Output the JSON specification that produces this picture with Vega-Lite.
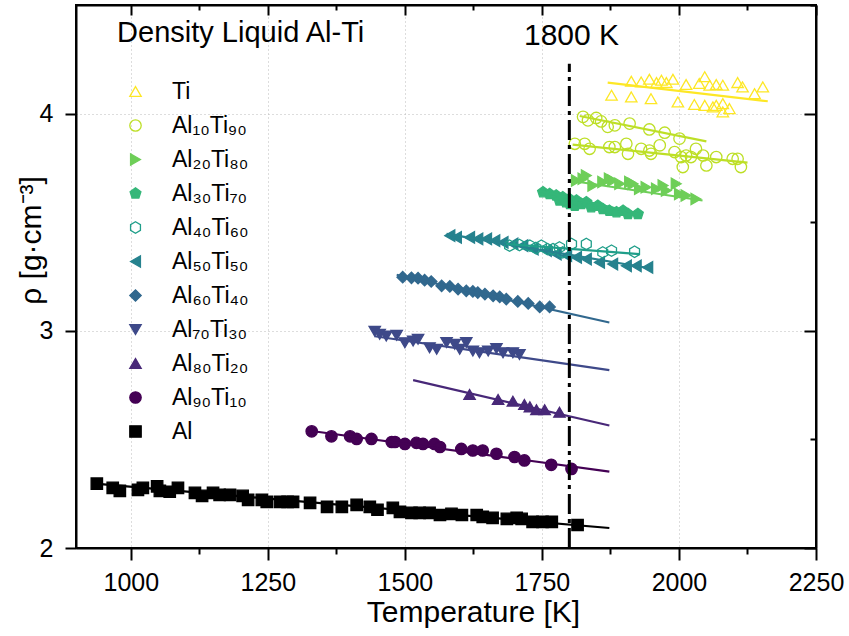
{
  "$schema": "https://vega.github.io/schema/vega-lite/v6.json",
  "width": 740,
  "height": 543,
  "autosize": {"type": "none"},
  "padding": {"left": 76, "top": 5, "right": 33, "bottom": 88},
  "background": "white",
  "config": {
    "view": {"stroke": "black", "strokeWidth": 2},
    "font": "Liberation Sans",
    "axis": {
      "domainColor": "black", "domainWidth": 2, "tickColor": "black", "tickWidth": 2,
      "labelFont": "Liberation Sans", "labelFontSize": 25, "labelColor": "black",
      "titleFont": "Liberation Sans", "titleFontSize": 30, "titleFontWeight": "normal", "titleColor": "black",
      "labelFlush": false, "labelOverlap": false
    }
  },
  "datasets": {
    "pts": [
      {"s":"Al","T":938,"r":2.296},{"s":"Al","T":967,"r":2.277},{"s":"Al","T":980,"r":2.263},{"s":"Al","T":1013,"r":2.268},{"s":"Al","T":1022,"r":2.277},{"s":"Al","T":1048,"r":2.284},{"s":"Al","T":1053,"r":2.263},{"s":"Al","T":1071,"r":2.259},{"s":"Al","T":1086,"r":2.277},{"s":"Al","T":1117,"r":2.254},{"s":"Al","T":1130,"r":2.240},{"s":"Al","T":1150,"r":2.254},{"s":"Al","T":1162,"r":2.245},{"s":"Al","T":1181,"r":2.245},{"s":"Al","T":1204,"r":2.240},{"s":"Al","T":1214,"r":2.222},{"s":"Al","T":1239,"r":2.222},{"s":"Al","T":1248,"r":2.212},{"s":"Al","T":1272,"r":2.212},{"s":"Al","T":1286,"r":2.212},{"s":"Al","T":1296,"r":2.212},{"s":"Al","T":1327,"r":2.208},{"s":"Al","T":1358,"r":2.189},{"s":"Al","T":1385,"r":2.189},{"s":"Al","T":1412,"r":2.199},{"s":"Al","T":1436,"r":2.189},{"s":"Al","T":1450,"r":2.176},{"s":"Al","T":1478,"r":2.185},{"s":"Al","T":1491,"r":2.166},{"s":"Al","T":1512,"r":2.162},{"s":"Al","T":1527,"r":2.162},{"s":"Al","T":1545,"r":2.162},{"s":"Al","T":1564,"r":2.152},{"s":"Al","T":1585,"r":2.157},{"s":"Al","T":1604,"r":2.152},{"s":"Al","T":1631,"r":2.152},{"s":"Al","T":1642,"r":2.143},{"s":"Al","T":1660,"r":2.139},{"s":"Al","T":1686,"r":2.134},{"s":"Al","T":1704,"r":2.139},{"s":"Al","T":1713,"r":2.134},{"s":"Al","T":1733,"r":2.120},{"s":"Al","T":1751,"r":2.120},{"s":"Al","T":1768,"r":2.120},{"s":"Al","T":1815,"r":2.106},

      {"s":"Al₉₀Ti₁₀","T":1330,"r":2.537},{"s":"Al₉₀Ti₁₀","T":1366,"r":2.514},{"s":"Al₉₀Ti₁₀","T":1400,"r":2.514},{"s":"Al₉₀Ti₁₀","T":1412,"r":2.502},{"s":"Al₉₀Ti₁₀","T":1439,"r":2.502},{"s":"Al₉₀Ti₁₀","T":1476,"r":2.488},{"s":"Al₉₀Ti₁₀","T":1482,"r":2.488},{"s":"Al₉₀Ti₁₀","T":1500,"r":2.479},{"s":"Al₉₀Ti₁₀","T":1521,"r":2.484},{"s":"Al₉₀Ti₁₀","T":1533,"r":2.479},{"s":"Al₉₀Ti₁₀","T":1554,"r":2.479},{"s":"Al₉₀Ti₁₀","T":1564,"r":2.465},{"s":"Al₉₀Ti₁₀","T":1603,"r":2.456},{"s":"Al₉₀Ti₁₀","T":1624,"r":2.449},{"s":"Al₉₀Ti₁₀","T":1642,"r":2.449},{"s":"Al₉₀Ti₁₀","T":1667,"r":2.434},{"s":"Al₉₀Ti₁₀","T":1700,"r":2.419},{"s":"Al₉₀Ti₁₀","T":1718,"r":2.403},{"s":"Al₉₀Ti₁₀","T":1767,"r":2.383},{"s":"Al₉₀Ti₁₀","T":1804,"r":2.364},

      {"s":"Al₈₀Ti₂₀","T":1618,"r":2.707},{"s":"Al₈₀Ti₂₀","T":1670,"r":2.684},{"s":"Al₈₀Ti₂₀","T":1697,"r":2.676},{"s":"Al₈₀Ti₂₀","T":1718,"r":2.661},{"s":"Al₈₀Ti₂₀","T":1728,"r":2.650},{"s":"Al₈₀Ti₂₀","T":1740,"r":2.637},{"s":"Al₈₀Ti₂₀","T":1755,"r":2.637},{"s":"Al₈₀Ti₂₀","T":1782,"r":2.625},

      {"s":"Al₇₀Ti₃₀","T":1445,"r":2.998},{"s":"Al₇₀Ti₃₀","T":1454,"r":2.984},{"s":"Al₇₀Ti₃₀","T":1466,"r":2.976},{"s":"Al₇₀Ti₃₀","T":1485,"r":2.979},{"s":"Al₇₀Ti₃₀","T":1500,"r":2.945},{"s":"Al₇₀Ti₃₀","T":1515,"r":2.953},{"s":"Al₇₀Ti₃₀","T":1524,"r":2.961},{"s":"Al₇₀Ti₃₀","T":1545,"r":2.922},{"s":"Al₇₀Ti₃₀","T":1558,"r":2.915},{"s":"Al₇₀Ti₃₀","T":1576,"r":2.946},{"s":"Al₇₀Ti₃₀","T":1591,"r":2.938},{"s":"Al₇₀Ti₃₀","T":1600,"r":2.915},{"s":"Al₇₀Ti₃₀","T":1612,"r":2.946},{"s":"Al₇₀Ti₃₀","T":1624,"r":2.907},{"s":"Al₇₀Ti₃₀","T":1636,"r":2.899},{"s":"Al₇₀Ti₃₀","T":1652,"r":2.907},{"s":"Al₇₀Ti₃₀","T":1667,"r":2.918},{"s":"Al₇₀Ti₃₀","T":1679,"r":2.899},{"s":"Al₇₀Ti₃₀","T":1697,"r":2.899},{"s":"Al₇₀Ti₃₀","T":1709,"r":2.891},

      {"s":"Al₆₀Ti₄₀","T":1496,"r":3.247},{"s":"Al₆₀Ti₄₀","T":1512,"r":3.244},{"s":"Al₆₀Ti₄₀","T":1524,"r":3.242},{"s":"Al₆₀Ti₄₀","T":1536,"r":3.233},{"s":"Al₆₀Ti₄₀","T":1548,"r":3.227},{"s":"Al₆₀Ti₄₀","T":1567,"r":3.207},{"s":"Al₆₀Ti₄₀","T":1582,"r":3.204},{"s":"Al₆₀Ti₄₀","T":1597,"r":3.192},{"s":"Al₆₀Ti₄₀","T":1612,"r":3.184},{"s":"Al₆₀Ti₄₀","T":1624,"r":3.181},{"s":"Al₆₀Ti₄₀","T":1633,"r":3.176},{"s":"Al₆₀Ti₄₀","T":1646,"r":3.169},{"s":"Al₆₀Ti₄₀","T":1661,"r":3.161},{"s":"Al₆₀Ti₄₀","T":1673,"r":3.156},{"s":"Al₆₀Ti₄₀","T":1685,"r":3.146},{"s":"Al₆₀Ti₄₀","T":1706,"r":3.135},{"s":"Al₆₀Ti₄₀","T":1725,"r":3.126},{"s":"Al₆₀Ti₄₀","T":1746,"r":3.110},{"s":"Al₆₀Ti₄₀","T":1764,"r":3.110},

      {"s":"Al₅₀Ti₅₀","T":1582,"r":3.438},{"s":"Al₅₀Ti₅₀","T":1594,"r":3.430},{"s":"Al₅₀Ti₅₀","T":1618,"r":3.430},{"s":"Al₅₀Ti₅₀","T":1633,"r":3.423},{"s":"Al₅₀Ti₅₀","T":1649,"r":3.423},{"s":"Al₅₀Ti₅₀","T":1664,"r":3.415},{"s":"Al₅₀Ti₅₀","T":1679,"r":3.407},{"s":"Al₅₀Ti₅₀","T":1697,"r":3.400},{"s":"Al₅₀Ti₅₀","T":1715,"r":3.392},{"s":"Al₅₀Ti₅₀","T":1734,"r":3.376},{"s":"Al₅₀Ti₅₀","T":1758,"r":3.369},{"s":"Al₅₀Ti₅₀","T":1776,"r":3.353},{"s":"Al₅₀Ti₅₀","T":1795,"r":3.346},{"s":"Al₅₀Ti₅₀","T":1813,"r":3.338},{"s":"Al₅₀Ti₅₀","T":1831,"r":3.330},{"s":"Al₅₀Ti₅₀","T":1855,"r":3.315},{"s":"Al₅₀Ti₅₀","T":1879,"r":3.307},{"s":"Al₅₀Ti₅₀","T":1904,"r":3.299},{"s":"Al₅₀Ti₅₀","T":1922,"r":3.299},{"s":"Al₅₀Ti₅₀","T":1943,"r":3.292},

      {"s":"Al₄₀Ti₆₀","T":1691,"r":3.392},{"s":"Al₄₀Ti₆₀","T":1709,"r":3.395},{"s":"Al₄₀Ti₆₀","T":1728,"r":3.392},{"s":"Al₄₀Ti₆₀","T":1739,"r":3.381},{"s":"Al₄₀Ti₆₀","T":1749,"r":3.392},{"s":"Al₄₀Ti₆₀","T":1760,"r":3.376},{"s":"Al₄₀Ti₆₀","T":1770,"r":3.376},{"s":"Al₄₀Ti₆₀","T":1782,"r":3.384},{"s":"Al₄₀Ti₆₀","T":1788,"r":3.361},{"s":"Al₄₀Ti₆₀","T":1804,"r":3.400},{"s":"Al₄₀Ti₆₀","T":1831,"r":3.400},{"s":"Al₄₀Ti₆₀","T":1861,"r":3.361},{"s":"Al₄₀Ti₆₀","T":1877,"r":3.369},{"s":"Al₄₀Ti₆₀","T":1919,"r":3.364},

      {"s":"Al₃₀Ti₇₀","T":1752,"r":3.638},{"s":"Al₃₀Ti₇₀","T":1764,"r":3.630},{"s":"Al₃₀Ti₇₀","T":1776,"r":3.623},{"s":"Al₃₀Ti₇₀","T":1782,"r":3.600},{"s":"Al₃₀Ti₇₀","T":1788,"r":3.615},{"s":"Al₃₀Ti₇₀","T":1794,"r":3.592},{"s":"Al₃₀Ti₇₀","T":1800,"r":3.607},{"s":"Al₃₀Ti₇₀","T":1801,"r":3.584},{"s":"Al₃₀Ti₇₀","T":1810,"r":3.576},{"s":"Al₃₀Ti₇₀","T":1813,"r":3.600},{"s":"Al₃₀Ti₇₀","T":1822,"r":3.584},{"s":"Al₃₀Ti₇₀","T":1831,"r":3.592},{"s":"Al₃₀Ti₇₀","T":1840,"r":3.569},{"s":"Al₃₀Ti₇₀","T":1852,"r":3.576},{"s":"Al₃₀Ti₇₀","T":1861,"r":3.561},{"s":"Al₃₀Ti₇₀","T":1873,"r":3.553},{"s":"Al₃₀Ti₇₀","T":1886,"r":3.546},{"s":"Al₃₀Ti₇₀","T":1898,"r":3.553},{"s":"Al₃₀Ti₇₀","T":1907,"r":3.538},{"s":"Al₃₀Ti₇₀","T":1925,"r":3.538},

      {"s":"Al₂₀Ti₈₀","T":1813,"r":3.692},{"s":"Al₂₀Ti₈₀","T":1825,"r":3.700},{"s":"Al₂₀Ti₈₀","T":1831,"r":3.715},{"s":"Al₂₀Ti₈₀","T":1843,"r":3.669},{"s":"Al₂₀Ti₈₀","T":1861,"r":3.685},{"s":"Al₂₀Ti₈₀","T":1873,"r":3.700},{"s":"Al₂₀Ti₈₀","T":1879,"r":3.692},{"s":"Al₂₀Ti₈₀","T":1892,"r":3.677},{"s":"Al₂₀Ti₈₀","T":1910,"r":3.685},{"s":"Al₂₀Ti₈₀","T":1916,"r":3.677},{"s":"Al₂₀Ti₈₀","T":1928,"r":3.654},{"s":"Al₂₀Ti₈₀","T":1940,"r":3.661},{"s":"Al₂₀Ti₈₀","T":1959,"r":3.654},{"s":"Al₂₀Ti₈₀","T":1971,"r":3.669},{"s":"Al₂₀Ti₈₀","T":1977,"r":3.646},{"s":"Al₂₀Ti₈₀","T":1995,"r":3.677},{"s":"Al₂₀Ti₈₀","T":2001,"r":3.630},{"s":"Al₂₀Ti₈₀","T":2013,"r":3.623},{"s":"Al₂₀Ti₈₀","T":2031,"r":3.607},

      {"s":"Al₁₀Ti₉₀","T":1825,"r":3.985},{"s":"Al₁₀Ti₉₀","T":1834,"r":3.969},{"s":"Al₁₀Ti₉₀","T":1849,"r":3.980},{"s":"Al₁₀Ti₉₀","T":1858,"r":3.964},{"s":"Al₁₀Ti₉₀","T":1870,"r":3.939},{"s":"Al₁₀Ti₉₀","T":1883,"r":3.946},{"s":"Al₁₀Ti₉₀","T":1910,"r":3.954},{"s":"Al₁₀Ti₉₀","T":1946,"r":3.927},{"s":"Al₁₀Ti₉₀","T":1974,"r":3.912},{"s":"Al₁₀Ti₉₀","T":2001,"r":3.885},
      {"s":"Al₁₀Ti₉₀","T":1810,"r":3.861},{"s":"Al₁₀Ti₉₀","T":1828,"r":3.861},{"s":"Al₁₀Ti₉₀","T":1837,"r":3.838},{"s":"Al₁₀Ti₉₀","T":1873,"r":3.846},{"s":"Al₁₀Ti₉₀","T":1883,"r":3.846},{"s":"Al₁₀Ti₉₀","T":1904,"r":3.861},{"s":"Al₁₀Ti₉₀","T":1907,"r":3.815},{"s":"Al₁₀Ti₉₀","T":1931,"r":3.838},{"s":"Al₁₀Ti₉₀","T":1946,"r":3.830},{"s":"Al₁₀Ti₉₀","T":1949,"r":3.815},{"s":"Al₁₀Ti₉₀","T":1965,"r":3.854},{"s":"Al₁₀Ti₉₀","T":1992,"r":3.823},{"s":"Al₁₀Ti₉₀","T":2004,"r":3.800},{"s":"Al₁₀Ti₉₀","T":2007,"r":3.754},{"s":"Al₁₀Ti₉₀","T":2013,"r":3.807},{"s":"Al₁₀Ti₉₀","T":2022,"r":3.800},{"s":"Al₁₀Ti₉₀","T":2031,"r":3.838},{"s":"Al₁₀Ti₉₀","T":2044,"r":3.807},{"s":"Al₁₀Ti₉₀","T":2050,"r":3.761},{"s":"Al₁₀Ti₉₀","T":2068,"r":3.800},{"s":"Al₁₀Ti₉₀","T":2098,"r":3.792},{"s":"Al₁₀Ti₉₀","T":2107,"r":3.792},{"s":"Al₁₀Ti₉₀","T":2113,"r":3.754},

      {"s":"Ti","T":1913,"r":4.149},{"s":"Ti","T":1931,"r":4.146},{"s":"Ti","T":1946,"r":4.158},{"s":"Ti","T":1959,"r":4.143},{"s":"Ti","T":1968,"r":4.154},{"s":"Ti","T":1977,"r":4.143},{"s":"Ti","T":1989,"r":4.158},{"s":"Ti","T":2013,"r":4.134},{"s":"Ti","T":2037,"r":4.139},{"s":"Ti","T":2047,"r":4.170},{"s":"Ti","T":2056,"r":4.131},{"s":"Ti","T":2068,"r":4.134},{"s":"Ti","T":2080,"r":4.131},{"s":"Ti","T":2107,"r":4.143},{"s":"Ti","T":2116,"r":4.123},{"s":"Ti","T":2153,"r":4.123},{"s":"Ti","T":1877,"r":4.085},{"s":"Ti","T":1913,"r":4.077},{"s":"Ti","T":1949,"r":4.069},{"s":"Ti","T":1998,"r":4.054},{"s":"Ti","T":2028,"r":4.042},{"s":"Ti","T":2047,"r":4.038},{"s":"Ti","T":2062,"r":4.031},{"s":"Ti","T":2068,"r":4.038},{"s":"Ti","T":2080,"r":4.046},{"s":"Ti","T":2080,"r":4.008},{"s":"Ti","T":2092,"r":4.023},{"s":"Ti","T":2138,"r":4.092}
    ],
    "fits": [
      {"s":"Al","run":"a","T":935,"r":2.296},{"s":"Al","run":"a","T":1873,"r":2.092},
      {"s":"Al₉₀Ti₁₀","run":"a","T":1320,"r":2.542},{"s":"Al₉₀Ti₁₀","run":"a","T":1873,"r":2.352},
      {"s":"Al₈₀Ti₂₀","run":"a","T":1515,"r":2.773},{"s":"Al₈₀Ti₂₀","run":"a","T":1873,"r":2.564},
      {"s":"Al₇₀Ti₃₀","run":"a","T":1445,"r":2.975},{"s":"Al₇₀Ti₃₀","run":"a","T":1873,"r":2.819},
      {"s":"Al₆₀Ti₄₀","run":"a","T":1485,"r":3.258},{"s":"Al₆₀Ti₄₀","run":"a","T":1873,"r":3.038},
      {"s":"Al₅₀Ti₅₀","run":"a","T":1576,"r":3.446},{"s":"Al₅₀Ti₅₀","run":"a","T":1949,"r":3.287},
      {"s":"Al₄₀Ti₆₀","run":"a","T":1685,"r":3.400},{"s":"Al₄₀Ti₆₀","run":"a","T":1928,"r":3.353},
      {"s":"Al₃₀Ti₇₀","run":"a","T":1746,"r":3.644},{"s":"Al₃₀Ti₇₀","run":"a","T":1928,"r":3.538},
      {"s":"Al₂₀Ti₈₀","run":"a","T":1800,"r":3.692},{"s":"Al₂₀Ti₈₀","run":"a","T":2043,"r":3.600},
      {"s":"Al₁₀Ti₉₀","run":"a","T":1819,"r":3.989},{"s":"Al₁₀Ti₉₀","run":"a","T":2050,"r":3.872},
      {"s":"Al₁₀Ti₉₀","run":"b","T":1806,"r":3.857},{"s":"Al₁₀Ti₉₀","run":"b","T":2125,"r":3.774},
      {"s":"Ti","run":"a","T":1870,"r":4.143},{"s":"Ti","run":"a","T":2162,"r":4.057}
    ]
  },
  "resolve": {"axis": {"x": "independent", "y": "independent"}},
  "layer": [
    {
      "data": {"name": "pts"},
      "mark": {"type": "point", "opacity": 1, "strokeWidth": 1.3, "size": 130},
      "encoding": {
        "x": {"field": "T", "type": "quantitative", "scale": {"domain": [900, 2250], "nice": false, "zero": false},
          "axis": {"orient": "bottom", "values": [1000,1125,1250,1375,1500,1625,1750,1875,2000,2125,2250], "format": "d",
            "labelExpr": "datum.value % 250 === 0 ? datum.label : ''",
            "tickSize": {"condition": {"test": "datum.value % 250 === 0", "value": 12}, "value": 6},
            "grid": true, "gridColor": "#bbbbbb", "gridDash": [1, 3], "gridWidth": 1,
            "gridOpacity": {"condition": {"test": "datum.value % 250 === 0 && datum.value < 2250", "value": 1}, "value": 0},
            "labelPadding": 10, "title": "Temperature [K]", "titleX": 397, "titleY": 73, "titleBaseline": "alphabetic"}},
        "y": {"field": "r", "type": "quantitative", "scale": {"domain": [2, 4.5], "nice": false, "zero": false},
          "axis": {"orient": "left", "values": [2, 2.5, 3, 3.5, 4, 4.5], "format": "d",
            "labelExpr": "datum.value % 1 === 0 ? datum.label : ''",
            "tickSize": {"condition": {"test": "datum.value % 1 === 0", "value": 11}, "value": 6},
            "grid": true, "gridColor": "#bbbbbb", "gridDash": [1, 3], "gridWidth": 1,
            "gridOpacity": {"condition": {"test": "datum.value === 3 || datum.value === 4", "value": 1}, "value": 0},
            "labelPadding": 12, "title": "ρ [g·cm⁻³]", "titleX": -36, "titleY": 235, "titleBaseline": "alphabetic", "titleAngle": -90}},
        "shape": {"field": "s", "type": "nominal",
          "scale": {"domain": ["Ti","Al₁₀Ti₉₀","Al₂₀Ti₈₀","Al₃₀Ti₇₀","Al₄₀Ti₆₀","Al₅₀Ti₅₀","Al₆₀Ti₄₀","Al₇₀Ti₃₀","Al₈₀Ti₂₀","Al₉₀Ti₁₀","Al"],
            "range": ["triangle-up","circle","triangle-right","M0,-1L0.951,-0.309L0.588,0.809L-0.588,0.809L-0.951,-0.309Z","M0,-1L0.866,-0.5L0.866,0.5L0,1L-0.866,0.5L-0.866,-0.5Z","triangle-left","diamond","triangle-down","triangle-up","circle","square"]},
          "legend": {"orient": "none", "legendX": 48, "legendY": 75, "title": null, "padding": 0, "labelFont": "Liberation Sans", "labelFontSize": 23, "labelColor": "black", "symbolSize": 130, "symbolStrokeWidth": 1.3, "rowPadding": 10, "labelOffset": 25, "labelLimit": 0}},
        "stroke": {"field": "s", "type": "nominal",
          "scale": {"domain": ["Ti","Al₁₀Ti₉₀","Al₂₀Ti₈₀","Al₃₀Ti₇₀","Al₄₀Ti₆₀","Al₅₀Ti₅₀","Al₆₀Ti₄₀","Al₇₀Ti₃₀","Al₈₀Ti₂₀","Al₉₀Ti₁₀","Al"],
            "range": ["#fde725","#bddf26","#6ece58","#35b779","#1f9e89","#26828e","#31688e","#3e4989","#482878","#440154","#000000"]},
          "legend": {"orient": "none", "legendX": 48, "legendY": 75, "title": null, "padding": 0, "labelFont": "Liberation Sans", "labelFontSize": 23, "labelColor": "black", "symbolSize": 130, "symbolStrokeWidth": 1.3, "rowPadding": 10, "labelOffset": 25, "labelLimit": 0}},
        "fill": {"field": "s", "type": "nominal",
          "scale": {"domain": ["Ti","Al₁₀Ti₉₀","Al₂₀Ti₈₀","Al₃₀Ti₇₀","Al₄₀Ti₆₀","Al₅₀Ti₅₀","Al₆₀Ti₄₀","Al₇₀Ti₃₀","Al₈₀Ti₂₀","Al₉₀Ti₁₀","Al"],
            "range": ["transparent","transparent","#6ece58","#35b779","transparent","#26828e","#31688e","#3e4989","#482878","#440154","#000000"]},
          "legend": {"orient": "none", "legendX": 48, "legendY": 75, "title": null, "padding": 0, "labelFont": "Liberation Sans", "labelFontSize": 23, "labelColor": "black", "symbolSize": 130, "symbolStrokeWidth": 1.3, "rowPadding": 10, "labelOffset": 25, "labelLimit": 0}}
      }
    },
    {
      "data": {"name": "fits"},
      "mark": {"type": "line", "strokeWidth": 2.2},
      "encoding": {
        "x": {"field": "T", "type": "quantitative", "axis": {"orient": "top", "values": [1000,1125,1250,1375,1500,1625,1750,1875,2000,2125,2250], "labels": false, "grid": false, "title": null,
            "tickSize": {"condition": {"test": "datum.value % 250 === 0", "value": -10}, "value": -5}}},
        "y": {"field": "r", "type": "quantitative", "axis": {"orient": "right", "values": [2, 2.5, 3, 3.5, 4, 4.5], "labels": false, "grid": false, "title": null,
            "tickSize": {"condition": {"test": "datum.value % 1 === 0", "value": -12}, "value": -6}}},
        "color": {"field": "s", "type": "nominal", "legend": null,
          "scale": {"domain": ["Ti","Al₁₀Ti₉₀","Al₂₀Ti₈₀","Al₃₀Ti₇₀","Al₄₀Ti₆₀","Al₅₀Ti₅₀","Al₆₀Ti₄₀","Al₇₀Ti₃₀","Al₈₀Ti₂₀","Al₉₀Ti₁₀","Al"],
            "range": ["#fde725","#bddf26","#6ece58","#35b779","#1f9e89","#26828e","#31688e","#3e4989","#482878","#440154","#000000"]}},
        "detail": {"field": "run", "type": "nominal"}
      }
    },
    {
      "data": {"values": [{"T": 1800, "r": 2, "r2": 4.23}]},
      "mark": {"type": "rule", "strokeDash": [20, 5, 4, 5], "strokeWidth": 3, "color": "black"},
      "encoding": {
        "x": {"field": "T", "type": "quantitative", "axis": null},
        "y": {"field": "r", "type": "quantitative", "axis": null},
        "y2": {"field": "r2"}
      }
    },
    {
      "data": {"values": [{"T": 975, "r": 4.37, "label": "Density Liquid Al-Ti"}]},
      "mark": {"type": "text", "align": "left", "baseline": "middle", "font": "Liberation Sans", "fontSize": 29, "color": "black"},
      "encoding": {
        "x": {"field": "T", "type": "quantitative", "axis": null},
        "y": {"field": "r", "type": "quantitative", "axis": null},
        "text": {"field": "label"}
      }
    },
    {
      "data": {"values": [{"T": 1804, "r": 4.356, "label": "1800 K"}]},
      "mark": {"type": "text", "align": "center", "baseline": "middle", "font": "Liberation Sans", "fontSize": 30, "color": "black"},
      "encoding": {
        "x": {"field": "T", "type": "quantitative", "axis": null},
        "y": {"field": "r", "type": "quantitative", "axis": null},
        "text": {"field": "label"}
      }
    }
  ]
}
